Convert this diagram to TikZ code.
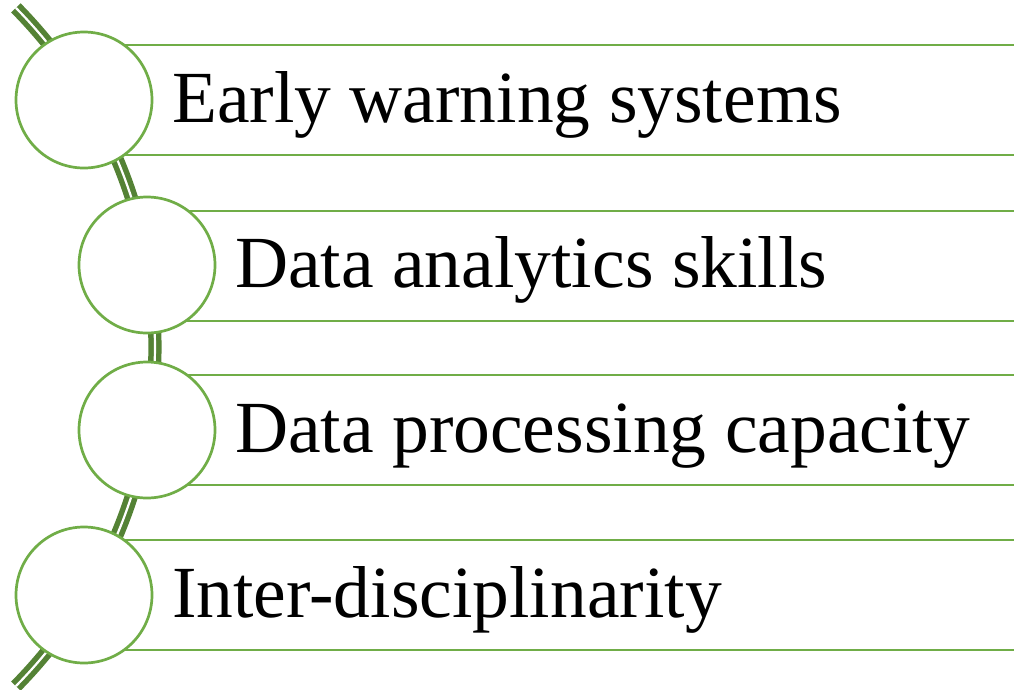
\documentclass[tikz,border=0pt]{standalone}
\usepackage{fontspec}
\setmainfont{Liberation Serif}
\usepackage{tikz}
\usetikzlibrary{calc}
\definecolor{leafgreen}{HTML}{70AD47}
\definecolor{darkleaf}{HTML}{548235}
\tikzset{
  ring/.style={circle, draw=leafgreen, line width=2.7pt, fill=white, minimum size=136pt, inner sep=0pt},
  rule/.style={draw=leafgreen, line width=2.4pt},
  item/.style={anchor=base west, inner sep=0pt, font=\fontsize{73.5}{88}\selectfont},
}

\begin{document}
\begin{tikzpicture}[x=1pt, y=-1pt]
    \useasboundingbox (0,0) rectangle (1015,689);
        % spine
        \coordinate (spine) at (-328,347);
        \draw [darkleaf, line width=5.5pt, double=white, double distance=2.2pt] ($(spine)+(-44.6:483)$) arc [start angle=44.6, end angle=-44.6, radius=483pt];
        % rules
        \draw [rule] (84,45) -- (1014,45);
        \draw [rule] (84,155) -- (1014,155);
        \draw [rule] (147,211) -- (1014,211);
        \draw [rule] (147,321) -- (1014,321);
        \draw [rule] (147,375) -- (1014,375);
        \draw [rule] (147,485) -- (1014,485);
        \draw [rule] (84,540) -- (1014,540);
        \draw [rule] (84,650) -- (1014,650);
        % circles
        \node [ring] (c1) at (84,100) {};
        \node [ring] (c2) at (147,265) {};
        \node [ring] (c3) at (147,430) {};
        \node [ring] (c4) at (84,595) {};
        % labels
        \node [item] (t1) at (172,122) {Early warning systems};
        \node [item] (t2) at (235,287) {Data analytics skills};
        \node [item] (t3) at (235,452) {Data processing capacity};
        \node [item] (t4) at (172,617) {Inter-disciplinarity};
    \end{tikzpicture}
\end{document}
